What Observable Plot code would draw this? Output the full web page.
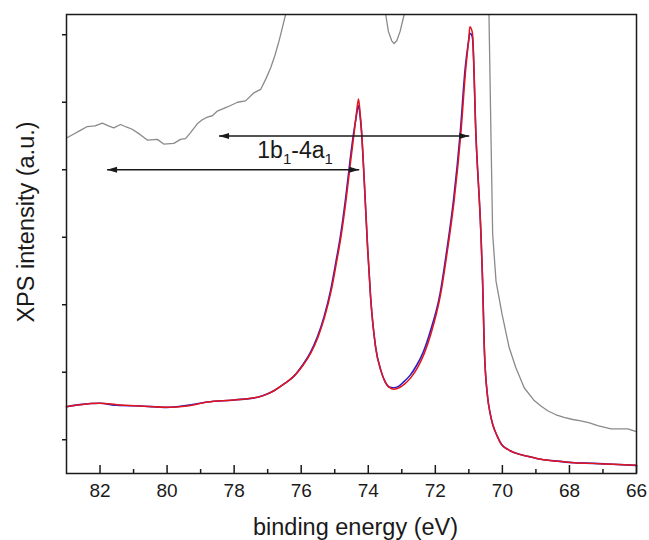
<!DOCTYPE html>
<html><head><meta charset="utf-8">
<script src="https://cdn.jsdelivr.net/npm/d3@7"></script>
<script src="https://cdn.jsdelivr.net/npm/@observablehq/plot@0.6"></script>
<style>body{margin:0;background:#fff} #chart svg{display:block}</style>
</head><body><div id="chart"></div>
<script>
// ---- data (binding energy in eV, intensity in arbitrary units) ----
const energyRed = [83.0,82.6,82.0,81.5,80.8,80.0,79.4,78.8,78.0,77.3,77.0,76.8,76.5,76.2,75.95,75.72,75.5,75.3,75.1,74.95,74.8,74.65,74.52,74.42,74.35,74.29,74.24,74.20,74.12,74.02,73.93,73.78,73.62,73.50,73.38,73.23,73.08,72.93,72.73,72.53,72.33,72.13,71.84,71.64,71.44,71.24,71.09,71.0,70.97,70.92,70.89,70.79,70.64,70.59,70.54,70.44,70.36,70.29,70.15,70.04,69.85,69.65,69.2,68.85,68.3,67.86,67.3,66.86,66.0];
const intensityRed = [0.99,1.02,1.04,1.02,1.00,0.98,1.00,1.06,1.09,1.13,1.18,1.23,1.33,1.45,1.60,1.78,2.02,2.32,2.72,3.12,3.55,4.10,4.65,5.05,5.35,5.55,5.32,5.08,4.34,3.35,2.61,1.87,1.52,1.36,1.28,1.25,1.27,1.32,1.42,1.57,1.78,2.07,2.66,3.30,4.04,5.03,6.01,6.45,6.62,6.58,6.51,5.03,3.55,2.85,1.87,1.13,0.88,0.73,0.55,0.44,0.36,0.31,0.25,0.21,0.18,0.16,0.15,0.14,0.12];

const energyBlue = [83.0,82.6,82.0,81.5,80.8,80.0,79.4,78.8,78.0,77.3,77.0,76.8,76.5,76.2,75.97,75.74,75.52,75.32,75.12,74.97,74.82,74.67,74.54,74.44,74.36,74.29,74.24,74.20,74.12,74.02,73.93,73.78,73.62,73.50,73.38,73.24,73.10,72.96,72.76,72.56,72.36,72.16,71.86,71.66,71.46,71.26,71.11,71.01,70.97,70.92,70.89,70.79,70.64,70.59,70.54,70.44,70.36,70.29,70.15,70.04,69.85,69.65,69.2,68.85,68.3,67.86,67.3,66.86,66.0];
const intensityBlue = [0.99,1.02,1.04,1.01,1.00,0.98,1.01,1.06,1.09,1.13,1.18,1.23,1.33,1.45,1.60,1.78,2.02,2.32,2.72,3.12,3.55,4.10,4.65,5.03,5.28,5.45,5.28,5.05,4.34,3.35,2.61,1.87,1.52,1.36,1.28,1.27,1.29,1.35,1.45,1.60,1.80,2.09,2.66,3.30,4.04,5.03,6.0,6.40,6.52,6.50,6.45,5.03,3.55,2.85,1.87,1.13,0.88,0.73,0.55,0.44,0.36,0.31,0.25,0.21,0.18,0.16,0.15,0.14,0.12];

const energyGray = [83.0,82.78,82.6,82.38,82.15,81.93,81.75,81.59,81.39,81.2,81.04,80.8,80.59,80.29,80.10,79.80,79.60,79.45,79.3,79.10,78.95,78.80,78.65,78.50,78.20,77.90,77.66,77.41,77.21,77.05,76.91,76.78,76.66,76.46,76.3,75.5,74.5,73.8,73.6,73.48,73.4,73.3,73.23,73.15,73.05,72.93,72.8,72.2,71.0,70.45,70.40,70.34,70.29,70.19,70.01,69.80,69.60,69.35,69.05,68.85,68.65,68.4,68.16,67.9,67.66,67.4,67.16,66.76,66.5,66.26,66.0];
const intensityGray = [4.97,5.03,5.08,5.14,5.15,5.19,5.15,5.12,5.17,5.13,5.10,5.02,4.94,4.95,4.88,4.89,4.95,4.96,5.05,5.18,5.24,5.28,5.30,5.37,5.43,5.50,5.52,5.64,5.69,5.85,6.01,6.2,6.41,6.81,7.3,9.0,10.0,7.6,7.05,6.8,6.55,6.41,6.37,6.41,6.55,6.8,7.1,8.0,11.0,8.0,6.8,5.0,3.55,2.85,2.36,1.87,1.57,1.27,1.08,1.0,0.93,0.87,0.83,0.80,0.78,0.75,0.71,0.66,0.66,0.66,0.62];

const xTicksMajor = [82,80,78,76,74,72,70,68,66];
const xTicksMinor = [81,79,77,75,73,71,69,67];
const yTicks = [0.5,1.5,2.5,3.5,4.5,5.5,6.5];

const arrowY = [5.0, 4.5];
const arrowFrom = [78.45, 81.79];
const arrowTo = [70.99, 74.27];

// label "1b1-4a1" with the 1s as subscripts: parts and whether each is a subscript
const labelParts = ["1b", "1", "-4a", "1"];
const labelSub = [false, true, false, true];
const labelX = [77.31];
const labelY = [4.68];

const xTitle = "binding energy (eV)";
const yTitle = "XPS intensity (a.u.)";

// ---- tables built from the arrays ----
const red = energyRed.map((e, i) => ({e, v: intensityRed[i]}));
const blue = energyBlue.map((e, i) => ({e, v: intensityBlue[i]}));
const gray = energyGray.map((e, i) => ({e, v: intensityGray[i]}));
const arrows = arrowY.map((y, i) => ({y, x1: arrowFrom[i], x2: arrowTo[i]}));
const labelString = labelParts.join("");

const W = 649, H = 540, mL = 66, mR = 13, mT = 14, mB = 67;
const frameH = H - mT - mB;
const ink = "#1a1a1a";

const arrowHead = {
  draw(ctx, size) {
    const r = Math.sqrt(size / Math.PI);
    const L = 2 * r, w = 0.62 * r;
    ctx.moveTo(0, 0);
    ctx.lineTo(-L, -w);
    ctx.lineTo(-L, w);
    ctx.closePath();
  }
};

const chart = Plot.plot({
  width: W, height: H,
  marginLeft: mL, marginRight: mR, marginTop: mT, marginBottom: mB,
  style: {fontFamily: "'Liberation Sans', Arial, sans-serif", fontSize: "19px", color: ink, background: "#fff"},
  x: {domain: [83, 66]},
  y: {domain: [0, 6.8]},
  marks: [
    Plot.line(gray, {x: "e", y: "v", stroke: "#8a8a8a", strokeWidth: 1.3, clip: true}),
    Plot.line(blue, {x: "e", y: "v", stroke: "#2b20c8", strokeWidth: 1.6, curve: "monotone-x"}),
    Plot.line(red, {x: "e", y: "v", stroke: "#e3141c", strokeWidth: 1.5, curve: "monotone-x"}),
    Plot.link(arrows, {x1: "x1", x2: "x2", y1: "y", y2: "y", stroke: ink, strokeWidth: 1.4}),
    Plot.dot(arrows, {x: "x2", y: "y", symbol: arrowHead, r: 5, fill: ink, stroke: "none"}),
    Plot.dot(arrows, {x: "x1", y: "y", symbol: arrowHead, r: 5, fill: ink, stroke: "none", rotate: 180}),
    Plot.text([labelString], {x: (d, i) => labelX[i], y: (d, i) => labelY[i], text: d => d, textAnchor: "start", lineAnchor: "bottom", fontSize: 23, fill: ink}),
    Plot.frame({stroke: ink, strokeWidth: 1.5}),
    Plot.tickX(xTicksMajor, {x: d => d, insetTop: frameH - 8, stroke: ink, strokeWidth: 1.5}),
    Plot.tickX(xTicksMinor, {x: d => d, insetTop: frameH - 4, stroke: ink, strokeWidth: 1.5}),
    Plot.axisX({ticks: xTicksMajor, tickSize: 0, tickPadding: 10, label: null, fill: ink}),
    Plot.axisY({ticks: yTicks, tickSize: 4, tickFormat: () => "", label: null, stroke: ink, strokeWidth: 1.5}),
    Plot.text([xTitle], {frameAnchor: "bottom", text: d => d, dy: 61.5, dx: 4, lineAnchor: "bottom", fontSize: 23.5, fill: ink}),
    Plot.text([yTitle], {frameAnchor: "left", text: d => d, rotate: -90, dx: -33, dy: -22, textAnchor: "middle", lineAnchor: "bottom", fontSize: 23.5, fill: ink})
  ]
});

// turn the label's "1"s into real subscripts (still text)
d3.select(chart).selectAll("text").filter(function () { return this.textContent === labelString; })
  .each(function () {
    const t = d3.select(this);
    t.text(null);
    let shifted = false;
    labelParts.forEach((p, i) => {
      const ts = t.append("tspan").text(p);
      if (labelSub[i]) { ts.attr("dy", 6).attr("font-size", 15); shifted = true; }
      else if (shifted) { ts.attr("dy", -6); shifted = false; }
    });
  });

document.getElementById("chart").appendChild(chart);
</script>
</body></html>
